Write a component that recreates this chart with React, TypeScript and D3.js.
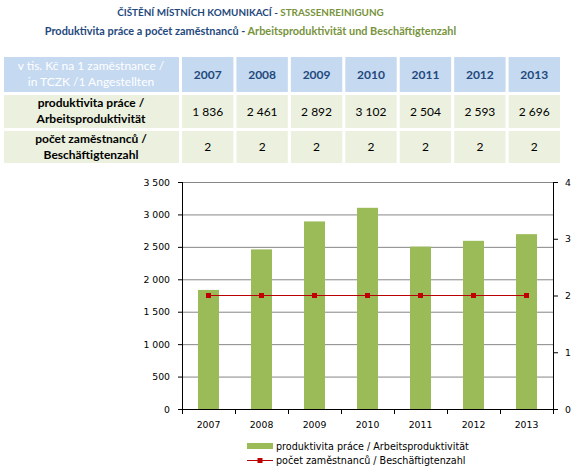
import React from 'react';
import * as d3 from 'd3';

const years = ['2007', '2008', '2009', '2010', '2011', '2012', '2013'];
const productivity = [1836, 2461, 2892, 3102, 2504, 2593, 2696];
const employees = [2, 2, 2, 2, 2, 2, 2];
const leftTicks = [0, 500, 1000, 1500, 2000, 2500, 3000, 3500];
const rightTicks = [0, 1, 2, 3, 4];

const titleCz1 = 'ČIŠTĚNÍ MÍSTNÍCH KOMUNIKACÍ - ';
const titleDe1 = 'STRASSENREINIGUNG';
const titleCz2 = 'Produktivita práce a počet zaměstnanců - ';
const titleDe2 = 'Arbeitsproduktivität und Beschäftigtenzahl';
const headerLabel = ['v tis. Kč na 1 zaměstnance /', 'in TCZK /1 Angestellten'];
const row1Label = ['produktivita práce /', 'Arbeitsproduktivität'];
const row2Label = ['počet zaměstnanců /', 'Beschäftigtenzahl'];
const legend1 = 'produktivita práce / Arbeitsproduktivität';
const legend2 = 'počet zaměstnanců / Beschäftigtenzahl';

const loc = d3.formatLocale({ decimal: ',', thousands: ' ', grouping: [3], currency: ['', ''] });
const fmt = loc.format(',d');

const W = 584, H = 473;
const plotL = 182, plotR = 553, plotT = 182, plotB = 409;
const FONT = 'Lato, "Liberation Sans", sans-serif';
const AXFONT = '"DejaVu Sans", Verdana, sans-serif';
const BLUE = '#1F497D';
const GREEN = '#77933C';
const LINE = '#B80000';

export default function App() {
  const x = d3.scaleBand<string>().domain(years).range([plotL, plotR]);
  const yL = d3.scaleLinear().domain([0, 3500]).range([plotB, plotT]);
  const yR = d3.scaleLinear().domain([0, 4]).range([plotB, plotT]);
  const barW = 21;
  const line = d3.line<number>().x((_, i) => x(years[i])! + x.bandwidth() / 2).y(d => yR(d));

  const colX = d3.scaleBand<string>().domain(years).range([182, 560]).paddingInner(3 / 54).paddingOuter(0);
  const rows = [
    { y: 57, h: 35 },
    { y: 95, h: 33 },
    { y: 131, h: 32 },
  ];

  return (
    <svg width={W} height={H} style={{ position: 'absolute', left: 0, top: 0, background: '#fff' }}>
      {/* titles */}
      <text x={250.5} y={16} textAnchor="middle" fontFamily={FONT} fontWeight="bold" fontSize={9.9}>
        <tspan fill={BLUE}>{titleCz1}</tspan>
        <tspan fill={GREEN}>{titleDe1}</tspan>
      </text>
      <text x={250.5} y={35} textAnchor="middle" fontFamily={FONT} fontWeight="bold" fontSize={10.9}>
        <tspan fill={BLUE}>{titleCz2}</tspan>
        <tspan fill={GREEN}>{titleDe2}</tspan>
      </text>

      {/* table */}
      <rect x={4} y={rows[0].y} width={175} height={rows[0].h} fill="#C5D9F1" />
      <text x={91} y={70} textAnchor="middle" fill="#fff" fontFamily={FONT} fontSize={12}>{headerLabel[0]}</text>
      <text x={91} y={86} textAnchor="middle" fill="#fff" fontFamily={FONT} fontSize={12}>{headerLabel[1]}</text>
      <rect x={4} y={rows[1].y} width={175} height={rows[1].h} fill="#EBF1DE" />
      <text x={91} y={107} textAnchor="middle" fill="#000" fontFamily={FONT} fontWeight="bold" fontSize={12}>{row1Label[0]}</text>
      <text x={91} y={123} textAnchor="middle" fill="#000" fontFamily={FONT} fontWeight="bold" fontSize={12}>{row1Label[1]}</text>
      <rect x={4} y={rows[2].y} width={175} height={rows[2].h} fill="#EBF1DE" />
      <text x={91} y={143} textAnchor="middle" fill="#000" fontFamily={FONT} fontWeight="bold" fontSize={12}>{row2Label[0]}</text>
      <text x={91} y={159} textAnchor="middle" fill="#000" fontFamily={FONT} fontWeight="bold" fontSize={12}>{row2Label[1]}</text>
      {years.map((yr, i) => {
        const cx = colX(yr)!;
        const cw = colX.bandwidth();
        const mid = cx + cw / 2;
        return (
          <g key={yr}>
            <rect x={cx} y={rows[0].y} width={cw} height={rows[0].h} fill="#C5D9F1" />
            <text x={mid} y={79} textAnchor="middle" fill={BLUE} fontFamily={FONT} fontWeight="bold" fontSize={12}>{yr}</text>
            <rect x={cx} y={rows[1].y} width={cw} height={rows[1].h} fill="#EBF1DE" />
            <text x={mid} y={116} textAnchor="middle" fill="#000" fontFamily={FONT} fontSize={12}>{fmt(productivity[i])}</text>
            <rect x={cx} y={rows[2].y} width={cw} height={rows[2].h} fill="#EBF1DE" />
            <text x={mid} y={151} textAnchor="middle" fill="#000" fontFamily={FONT} fontSize={12}>{fmt(employees[i])}</text>
          </g>
        );
      })}

      {/* gridlines */}
      {leftTicks.filter(t => t > 0).map(t => (
        <line key={'g' + t} x1={plotL} x2={plotR} y1={yL(t) + 0.5} y2={yL(t) + 0.5} stroke="#868686" strokeWidth={1} />
      ))}

      {/* bars */}
      {years.map((yr, i) => (
        <rect key={'b' + yr} x={x(yr)! + x.bandwidth() / 2 - barW / 2} y={yL(productivity[i])} width={barW}
          height={plotB - yL(productivity[i])} fill="#9BBB59" />
      ))}

      {/* axes */}
      <line x1={plotL + 0.5} x2={plotL + 0.5} y1={plotT} y2={plotB + 1} stroke="#000" />
      <line x1={plotR + 0.5} x2={plotR + 0.5} y1={plotT} y2={plotB + 1} stroke="#000" />
      <line x1={plotL} x2={plotR + 1} y1={plotB + 0.5} y2={plotB + 0.5} stroke="#000" />
      {leftTicks.map(t => (
        <g key={'l' + t}>
          <line x1={plotL - 4} x2={plotL} y1={yL(t) + 0.5} y2={yL(t) + 0.5} stroke="#000" />
          <text x={170} y={yL(t) + 3.5} textAnchor="end" fontFamily={AXFONT} fontSize={9.3} fill="#000">{fmt(t)}</text>
        </g>
      ))}
      {rightTicks.map(t => (
        <g key={'r' + t}>
          <line x1={plotR} x2={plotR + 5} y1={yR(t) + 0.5} y2={yR(t) + 0.5} stroke="#000" />
          <text x={565} y={yR(t) + 3.5} textAnchor="start" fontFamily={AXFONT} fontSize={9.3} fill="#000">{fmt(t)}</text>
        </g>
      ))}
      {years.map((yr, i) => (
        <g key={'x' + yr}>
          <line x1={x(yr)! + 0.5} x2={x(yr)! + 0.5} y1={plotB} y2={plotB + 5} stroke="#000" />
          {i === years.length - 1 && (
            <line x1={plotR + 0.5} x2={plotR + 0.5} y1={plotB} y2={plotB + 5} stroke="#000" />
          )}
          <text x={x(yr)! + x.bandwidth() / 2} y={428} textAnchor="middle" fontFamily={AXFONT} fontSize={9.3} fill="#000">{yr}</text>
        </g>
      ))}

      {/* line series */}
      <path d={line(employees) || ''} fill="none" stroke={LINE} strokeWidth={1} shapeRendering="crispEdges" />
      {employees.map((v, i) => (
        <rect key={'m' + i} x={x(years[i])! + x.bandwidth() / 2 - 2.5} y={yR(v) - 2.5} width={5} height={5} fill="#C00000" />
      ))}

      {/* legend */}
      <rect x={247} y={443} width={26} height={6} fill="#9BBB59" />
      <text x={276} y={450} fontFamily={AXFONT} fontSize={9.6} fill="#000">{legend1}</text>
      <line x1={247} x2={273} y1={460.5} y2={460.5} stroke={LINE} strokeWidth={1} />
      <rect x={257.5} y={458} width={5} height={5} fill="#C00000" />
      <text x={276} y={464} fontFamily={AXFONT} fontSize={9.6} fill="#000">{legend2}</text>
    </svg>
  );
}
